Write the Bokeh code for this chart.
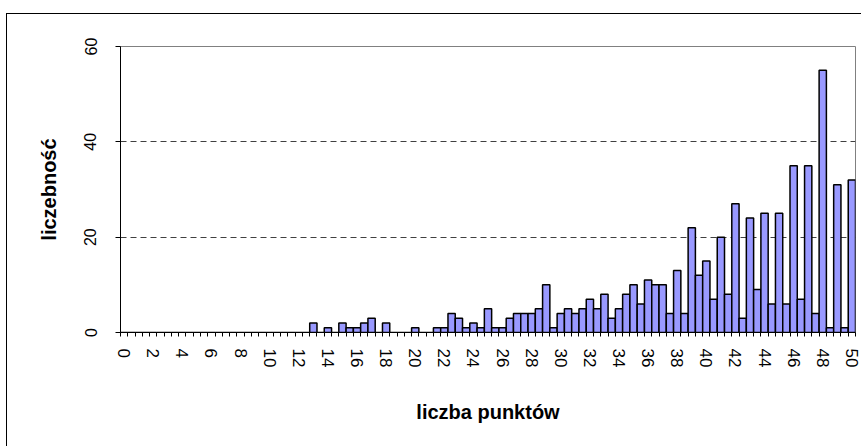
from bokeh.plotting import figure
from bokeh.models import Range1d, FixedTicker
from bokeh.embed import file_html
from bokeh.resources import INLINE

# score categories (0 .. 50 in half-point steps)
scores = [i / 2 for i in range(101)]
counts = [0] * 26 + [
    2, 0, 1, 0, 2, 1, 1, 2, 3, 0, 2, 0, 0, 0, 1, 0, 0, 1, 1, 4,
    3, 1, 2, 1, 5, 1, 1, 3, 4, 4, 4, 5, 10, 1,
    4, 5, 4, 5, 7, 5, 8, 3, 5, 8, 10, 6, 11, 10, 10, 4, 13, 4, 22, 12,
    15, 7, 20, 8, 27, 3, 24, 9, 25, 6, 25, 6, 35, 7, 35, 4, 55, 1, 31, 1, 32,
]
x_label_values = list(range(0, 51, 2))
y_tick_values = [0, 20, 40, 60]
grid_values = [20, 40]

FONT = "Liberation Sans"

p = figure(width=855, height=433, output_backend="svg", toolbar_location=None,
           x_range=Range1d(-0.25, 50.25), y_range=Range1d(0, 60),
           min_border_left=113, min_border_top=32, min_border_right=7,
           min_border_bottom=115)
p.styles = {"position": "relative", "top": "13px", "left": "6px",
            "border-left": "1px solid black", "border-top": "1px solid black"}

p.vbar(x=scores, top=counts, width=0.5, bottom=0,
       fill_color="#9999FF", line_color="black", line_width=1.5)

p.outline_line_color = "#808080"
p.outline_line_width = 1
p.background_fill_color = "white"
p.border_fill_color = "white"

# x axis
bounds = [s - 0.25 for s in scores] + [50.25]
p.xaxis.ticker = FixedTicker(ticks=x_label_values, minor_ticks=bounds)
p.xaxis.major_label_overrides = {v: str(v) for v in x_label_values}
p.xaxis.major_tick_out = 0
p.xaxis.major_tick_in = 0
p.xaxis.minor_tick_out = 4
p.xaxis.minor_tick_in = 0
p.xaxis.minor_tick_line_color = "black"
p.xaxis.axis_line_color = "black"
p.xaxis.major_label_orientation = "vertical"
p.xaxis.major_label_text_font = FONT
p.xaxis.major_label_text_font_size = "17px"
p.xaxis.major_label_text_color = "black"
p.xaxis.major_label_standoff = 12
p.xaxis.axis_label = "liczba punktów"
p.xaxis.axis_label_text_font = FONT
p.xaxis.axis_label_text_font_size = "20px"
p.xaxis.axis_label_text_font_style = "bold"
p.xaxis.axis_label_text_color = "black"
p.xaxis.axis_label_standoff = 31

# y axis
p.yaxis.ticker = FixedTicker(ticks=y_tick_values)
p.yaxis.major_tick_out = 5
p.yaxis.major_tick_in = 0
p.yaxis.minor_tick_out = 0
p.yaxis.major_tick_line_color = "black"
p.yaxis.axis_line_color = "black"
p.yaxis.major_label_orientation = "vertical"
p.yaxis.major_label_text_font = FONT
p.yaxis.major_label_text_font_size = "16px"
p.yaxis.major_label_text_color = "black"
p.yaxis.major_label_standoff = 19
p.yaxis.axis_label = "liczebność"
p.yaxis.axis_label_text_font = FONT
p.yaxis.axis_label_text_font_size = "20px"
p.yaxis.axis_label_text_font_style = "bold"
p.yaxis.axis_label_text_color = "black"
p.yaxis.axis_label_standoff = 22

p.xgrid.visible = False
p.ygrid.ticker = FixedTicker(ticks=grid_values)
p.ygrid.grid_line_color = "#404040"
p.ygrid.grid_line_dash = "6 4"
p.ygrid.grid_line_width = 1

open("out.html", "w").write(file_html(p, INLINE))
